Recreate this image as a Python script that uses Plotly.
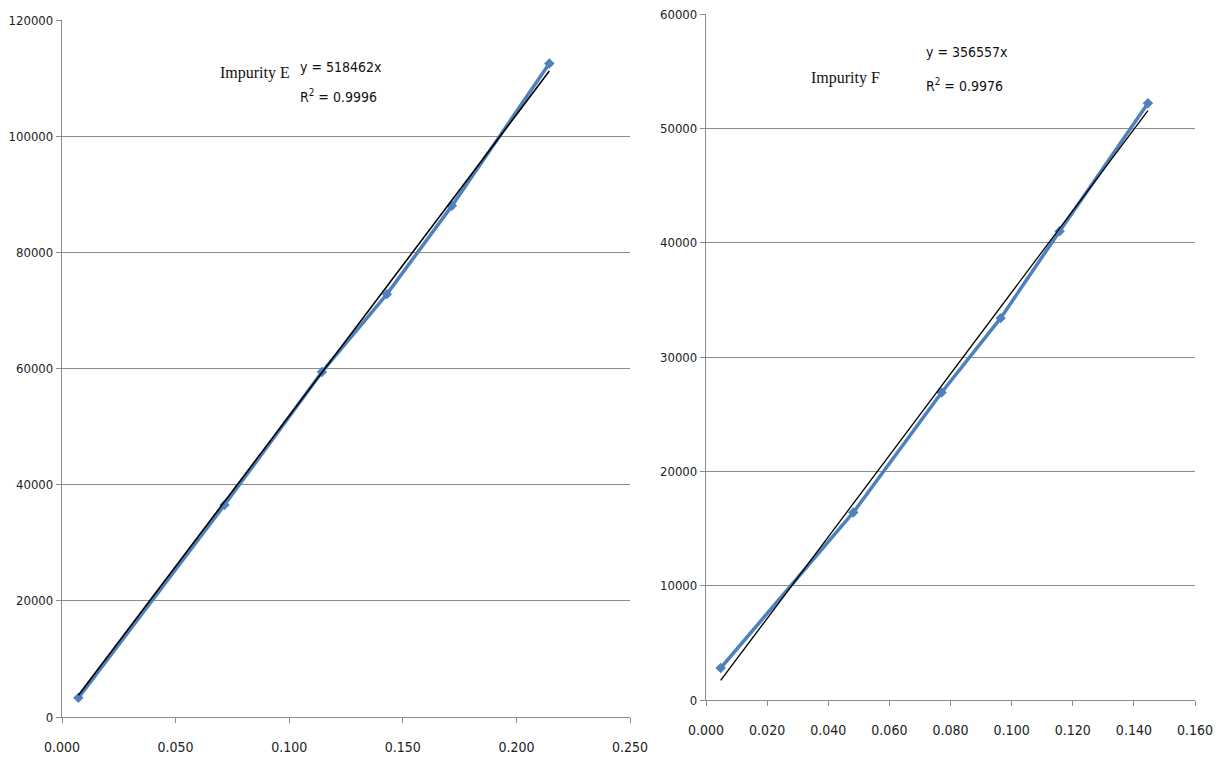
import plotly.graph_objects as go

# ---- data ----
e_conc = [0.0072, 0.0715, 0.1144, 0.1430, 0.1716, 0.2145]
e_area = [3300, 36500, 59400, 72800, 88000, 112500]
e_slope = 518462
e_r2 = "0.9996"

f_conc = [0.0048, 0.0482, 0.0771, 0.0964, 0.1157, 0.1446]
f_area = [2800, 16400, 26900, 33400, 41000, 52200]
f_slope = 356557
f_r2 = "0.9976"

e_xticks = [0.0, 0.05, 0.10, 0.15, 0.20, 0.25]
e_yticks = [0, 20000, 40000, 60000, 80000, 100000, 120000]
f_xticks = [0.0, 0.02, 0.04, 0.06, 0.08, 0.10, 0.12, 0.14, 0.16]
f_yticks = [0, 10000, 20000, 30000, 40000, 50000, 60000]

W, H = 1222, 765
OFF = 8  # page body margin
def px(x): return (x - OFF) / W
def py(y): return 1 - (y - OFF) / H

BLUE = "#4F81BD"
GRID = "#8c8c8c"
FONT = "DejaVu Sans Condensed, DejaVu Sans, sans-serif"

fig = go.Figure()

fig.add_trace(go.Scatter(x=e_conc, y=e_area, mode="lines+markers",
                         line=dict(color=BLUE, width=3.5),
                         marker=dict(symbol="diamond", size=8, color=BLUE),
                         xaxis="x", yaxis="y", showlegend=False))
fig.add_trace(go.Scatter(x=[e_conc[0], e_conc[-1]],
                         y=[e_slope * e_conc[0], e_slope * e_conc[-1]],
                         mode="lines", line=dict(color="black", width=1.6),
                         xaxis="x", yaxis="y", showlegend=False))

fig.add_trace(go.Scatter(x=f_conc, y=f_area, mode="lines+markers",
                         line=dict(color=BLUE, width=3.5),
                         marker=dict(symbol="diamond", size=8, color=BLUE),
                         xaxis="x2", yaxis="y2", showlegend=False))
fig.add_trace(go.Scatter(x=[f_conc[0], f_conc[-1]],
                         y=[f_slope * f_conc[0], f_slope * f_conc[-1]],
                         mode="lines", line=dict(color="black", width=1.3),
                         xaxis="x2", yaxis="y2", showlegend=False))

axcommon = dict(showline=True, linecolor=GRID, linewidth=1.3, zeroline=False,
                ticks="outside", tickcolor=GRID, ticklen=5, automargin=False,
                ticklabeloverflow="allow",
                tickfont=dict(family=FONT, size=13, color="#222"))
xcommon = dict(axcommon, ticklabelstandoff=12,
               tickfont=dict(family=FONT, size=14, color="#222"))

fig.update_layout(
    width=W, height=H,
    margin=dict(l=0, r=0, t=0, b=0),
    paper_bgcolor="white", plot_bgcolor="white",
    xaxis=dict(domain=[px(62), px(630)], range=[0, 0.25],
               tickvals=e_xticks, tickformat=".3f", showgrid=False,
               anchor="y", **xcommon),
    yaxis=dict(domain=[py(717), py(20)], range=[0, 120000],
               tickvals=e_yticks, tickformat="d", showgrid=True,
               gridcolor=GRID, gridwidth=1.3, anchor="x", **axcommon),
    xaxis2=dict(domain=[px(706), px(1195)], range=[0, 0.16],
                tickvals=f_xticks, tickformat=".3f", showgrid=False,
                anchor="y2", **xcommon),
    yaxis2=dict(domain=[py(700), py(14)], range=[0, 60000],
                tickvals=f_yticks, tickformat="d", showgrid=True,
                gridcolor=GRID, gridwidth=1.3, anchor="x2", **axcommon),
)

def ann(text, x, y, family, size, xanchor="left"):
    fig.add_annotation(text=text, x=px(x), y=py(y), xref="paper", yref="paper",
                       showarrow=False, xanchor=xanchor, yanchor="middle",
                       font=dict(family=family, size=size, color="#111"))

SERIF = "Liberation Serif, serif"
ann("Impurity E", 292, 73, SERIF, 16, "right")
ann(f"y = {e_slope}x", 298, 67, FONT, 14)
ann(f"R<sup>2</sup> = {e_r2}", 298, 96, FONT, 14)
ann("Impurity F", 882, 78, SERIF, 16, "right")
ann(f"y = {f_slope}x", 924, 52, FONT, 14)
ann(f"R<sup>2</sup> = {f_r2}", 924, 85, FONT, 14)

fig.write_html("out.html")
